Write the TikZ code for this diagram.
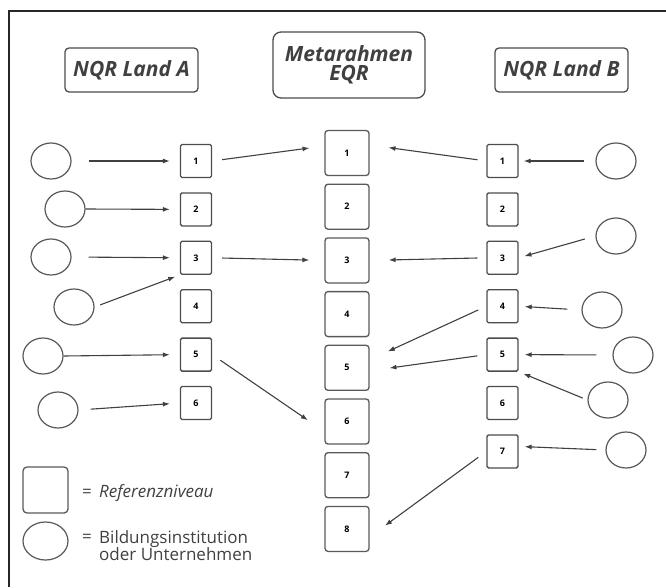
\documentclass[tikz,border=0pt]{standalone}
\usepackage{fontspec}
\setmainfont{Open Sans}
\usetikzlibrary{shapes.geometric,arrows.meta}

\tikzset{
  hdr/.style={draw=black!70,line width=1.3pt,rounded corners=4pt,font=\fontsize{21}{22}\selectfont\bfseries\itshape,text=black!75,inner sep=0pt},
  ebox/.style={draw=black!65,line width=1.3pt,rounded corners=3pt,minimum width=44pt,minimum height=45pt,font=\fontsize{9}{9}\selectfont\bfseries,inner sep=0pt},
  lvl/.style={draw=black!70,line width=1.3pt,rounded corners=1.5pt,minimum width=31pt,minimum height=33pt,font=\fontsize{9}{9}\selectfont\bfseries,inner sep=0pt},
  inst/.style={ellipse,draw=black!65,line width=1.2pt,minimum width=40pt,minimum height=36pt,inner sep=0pt},
  link/.style={draw=black!75,line width=1.1pt,-{Latex[length=7pt,width=5pt]}},
  legtext/.style={font=\fontsize{17}{17}\selectfont,text=black!75,align=left,inner sep=0pt}
}

\begin{document}
\begin{tikzpicture}[x=1pt,y=-1pt]
\useasboundingbox (0,0) rectangle (666,587);
\draw[black!85,line width=1.5pt] (666,11) -- (9,11) -- (9,587);

% headers
\node[hdr,minimum width=133pt,minimum height=44pt] (hA) at (131.5,70) {NQR Land A};
\node[hdr,minimum width=152pt,minimum height=66pt,rounded corners=8pt,align=center] (hE) at (349,65) {Metarahmen\\[-3pt]EQR};
\node[hdr,minimum width=133pt,minimum height=44pt] (hB) at (561.5,70) {NQR Land B};

% levels
\foreach \i in {1,...,8}
  \node[ebox] (e\i) at (347,{153+53.7*(\i-1)}) {\i};
\foreach \i in {1,...,6}
  \node[lvl] (a\i) at (196,{161+48.4*(\i-1)}) {\i};
\foreach \i in {1,...,7}
  \node[lvl] (b\i) at (502.5,{161+48.4*(\i-1)}) {\i};

% institutions land A
\node[inst] (la1) at (51,161) {};
\node[inst] (la2) at (65,209) {};
\node[inst] (la3) at (51,257) {};
\node[inst] (la4) at (74,307) {};
\node[inst] (la5) at (43,356) {};
\node[inst] (la6) at (58,410) {};

% institutions land B
\node[inst] (rb1) at (616,161) {};
\node[inst] (rb3) at (616,236) {};
\node[inst] (rb4) at (602,310) {};
\node[inst] (rb5) at (633,355) {};
\node[inst] (rb6) at (608,400) {};
\node[inst] (rb7) at (626,450) {};

% arrows land A
\draw[link,shorten <=17pt,shorten >=10pt] (la1.east) -- (a1.west);
\draw[link,shorten >=10pt] (la2.east) -- (a2.west);
\draw[link,shorten <=17pt,shorten >=10pt] (la3.east) -- (a3.west);
\draw[link,shorten <=6pt,shorten >=5pt] (la4.east) -- (a3.south west);
\draw[link,shorten >=10pt] (la5.east) -- (a5.west);
\draw[link,shorten <=12pt,shorten >=10pt] (la6.east) -- (a6.west);

\draw[link,shorten <=10pt,shorten >=15pt] (a1.east) -- ([yshift=7pt]e1.west);
\draw[link,shorten <=10pt,shorten >=15pt] (a3.east) -- (e3.west);
\draw[link,shorten <=10pt,shorten >=20pt] (a5.east) -- ([yshift=-10pt]e6.west);

% arrows land B
\draw[link,shorten <=11pt,shorten >=5pt] (rb1.west) -- (b1.east);
\draw[link,shorten <=11pt,shorten >=6pt] (rb3.west) -- (b3.east);
\draw[link,shorten <=14pt,shorten >=6pt] (rb4.west) -- (b4.east);
\draw[link,shorten <=16pt,shorten >=6pt] (rb5.west) -- (b5.east);
\draw[link,shorten <=5pt,shorten >=5pt] (rb6.west) -- (b5.south east);
\draw[link,shorten <=9pt,shorten >=6pt] (rb7.west) -- ([yshift=5pt]b7.east);

\draw[link,shorten <=9pt,shorten >=19pt] (b1.west) -- ([yshift=8pt]e1.east);
\draw[link,shorten <=9pt,shorten >=19pt] (b3.west) -- (e3.east);
\draw[link,shorten <=9pt,shorten >=20pt] (b4.west) -- ([yshift=8pt]e5.east);
\draw[link,shorten <=9pt,shorten >=20pt] (b5.west) -- ([yshift=-3pt]e5.east);
\draw[link,shorten <=10pt,shorten >=19pt] (b7.west) -- ([yshift=-8pt]e8.east);

% legend
\node[ebox,minimum width=45pt,minimum height=46pt,rounded corners=4pt] (legbox) at (45.5,490) {};
\node[inst,minimum width=45pt,minimum height=38pt] (legcirc) at (45.5,541) {};
\node[legtext,anchor=west] (legeq1) at (82,493) {=};
\node[legtext,anchor=west] (legtxt1) at (99,493) {\itshape Referenzniveau};
\node[legtext,anchor=west] (legeq2) at (82,538) {=};
\node[legtext,anchor=west] (legtxt2) at (99,546) {Bildungsinstitution\\oder Unternehmen};
\end{tikzpicture}
\end{document}
